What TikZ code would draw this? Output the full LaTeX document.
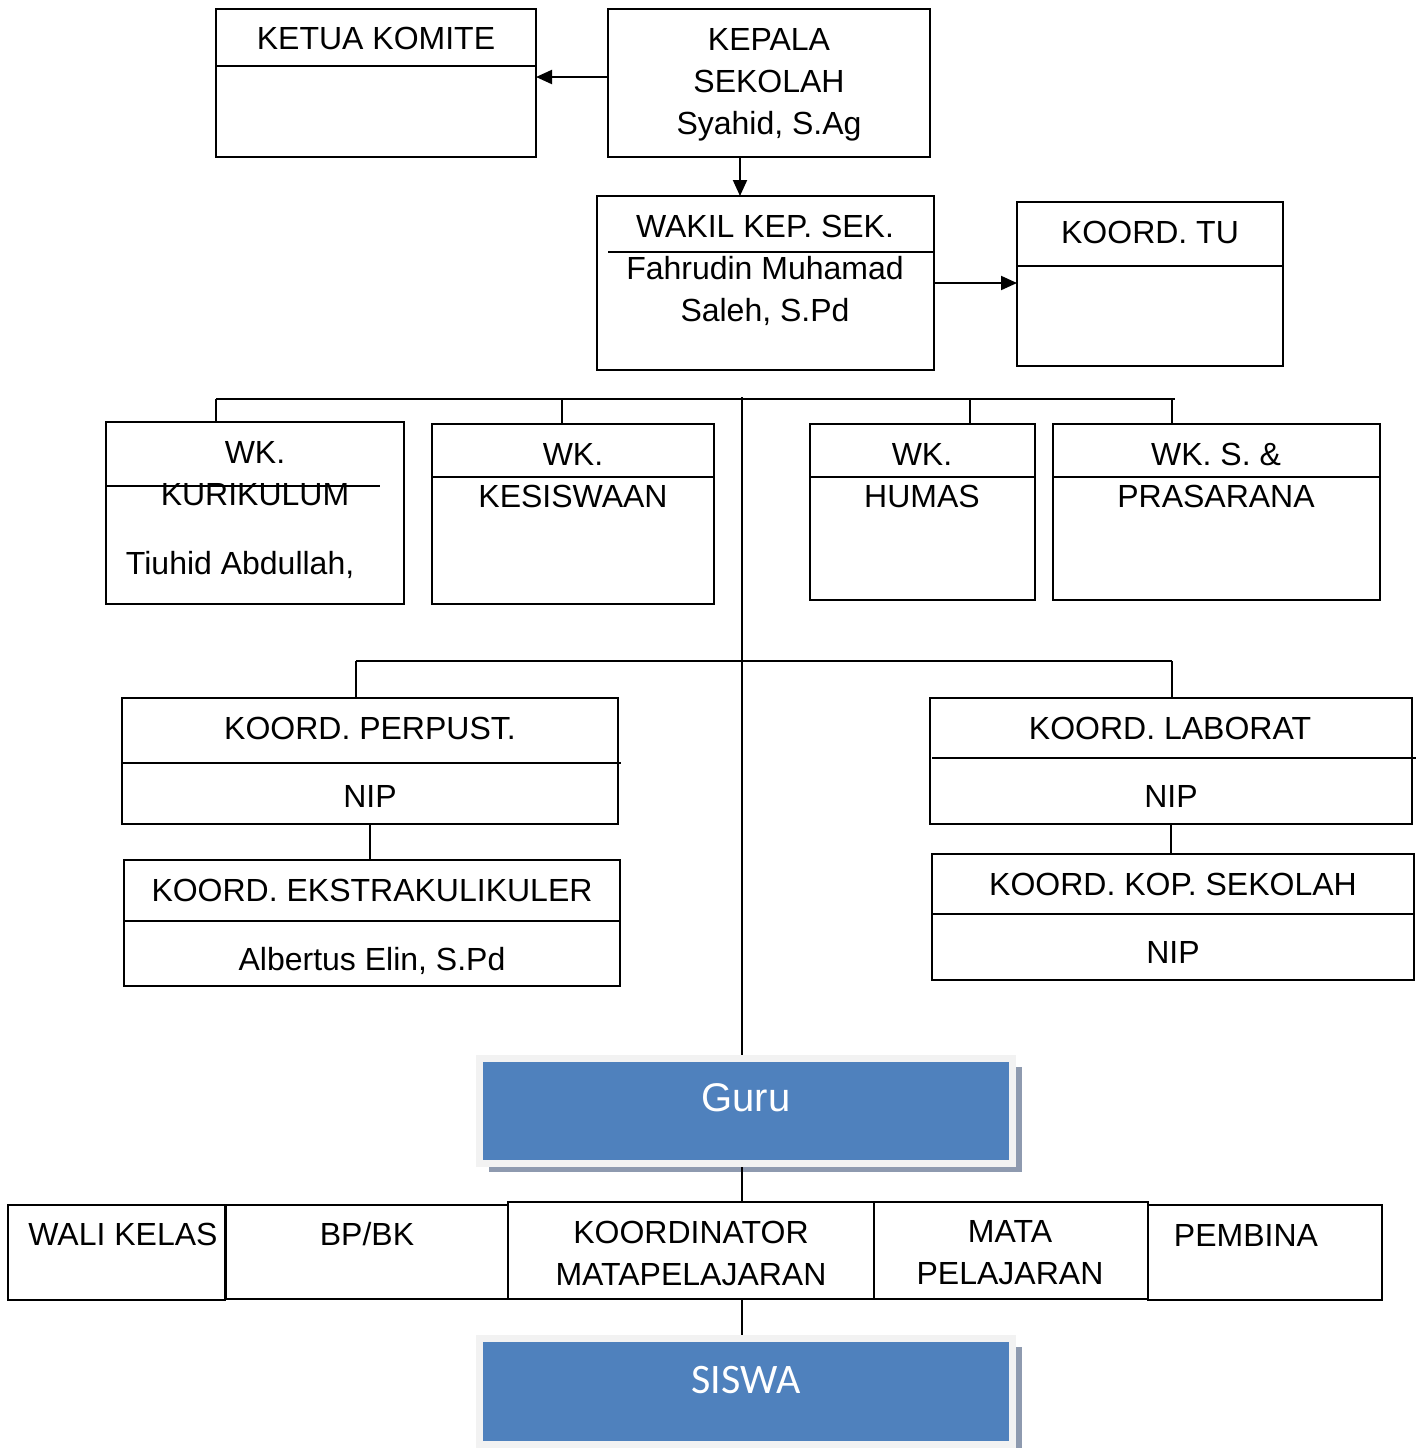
\documentclass[tikz,border=0pt]{standalone}
\usepackage{fontspec}
\setmainfont{Liberation Sans}
\newfontfamily\calibri{Carlito}
\usetikzlibrary{arrows.meta,shadows}

\definecolor{gurublue}{HTML}{4F81BD}
\definecolor{framegray}{HTML}{F2F2F2}
\definecolor{shadowgray}{HTML}{8E9AAF}

\begin{document}
\begin{tikzpicture}[x=0.5pt, y=-0.5pt, line width=1pt, >={Triangle[length=8pt,width=7pt]},
	every node/.style={font=\fontsize{16}{21}\selectfont, inner sep=0pt, outer sep=0pt},
	orgbox/.style 2 args={draw, minimum width=#1*0.5pt, minimum height=#2*0.5pt},
	bluebox/.style 2 args={fill=gurublue, draw=framegray, line width=3.5pt, outer sep=1.75pt,
		minimum width=#1*0.5pt, minimum height=#2*0.5pt,
		general shadow={fill=shadowgray, shadow xshift=4.5pt, shadow yshift=-4pt}},
	lbl/.style={align=center}]
	\useasboundingbox (0,0) rectangle (1421,1448);
	% top: komite, kepala sekolah, wakil, tu
	\node[orgbox={320}{148}] (komite) at (376,83) {};
	\node[orgbox={322}{148}] (kepsek) at (769,83) {};
	\node[orgbox={337}{174}] (wakil) at (765.5,283) {};
	\node[orgbox={266}{164}] (tu) at (1150,284) {};
	\draw (komite.west |- 0,66) -- (komite.east |- 0,66);
	\draw (608,252) -- (wakil.east |- 0,252);
	\draw (tu.west |- 0,266) -- (tu.east |- 0,266);
	\node (komite-t) at (376,38) {KETUA KOMITE};
	\node[lbl] (kepsek-t) at (769,85) {KEPALA\\SEKOLAH\\Syahid, S.Ag};
	\node (wakil-t) at (765,226) {WAKIL KEP. SEK.};
	\node[lbl] (wakil-n) at (765,291) {Fahrudin Muhamad\\Saleh, S.Pd};
	\node (tu-t) at (1150,232) {KOORD. TU};
	% wakil kepala bidang
	\node[orgbox={298}{182}] (kurikulum) at (255,513) {};
	\node[orgbox={282}{180}] (kesiswaan) at (573,514) {};
	\node[orgbox={225}{176}] (humas) at (922.5,512) {};
	\node[orgbox={327}{176}] (sarpras) at (1216.5,512) {};
	\draw (kurikulum.west |- 0,486) -- (380,486);
	\draw (kesiswaan.west |- 0,477) -- (kesiswaan.east |- 0,477);
	\draw (humas.west |- 0,477) -- (humas.east |- 0,477);
	\draw (sarpras.west |- 0,477) -- (sarpras.east |- 0,477);
	\node[lbl] (kurikulum-t) at (255,474) {WK.\\KURIKULUM};
	\node[anchor=west] (kurikulum-n) at (126,565) {Tiuhid Abdullah,};
	\node[lbl] (kesiswaan-t) at (573,476) {WK.\\KESISWAAN};
	\node[lbl] (humas-t) at (922,476) {WK.\\HUMAS};
	\node[lbl] (sarpras-t) at (1216,475) {WK. S. \&\\PRASARANA};
	% koordinator
	\node[orgbox={496}{126}] (perpust) at (370,761) {};
	\node[orgbox={496}{126}] (ekskul) at (372,923) {};
	\node[orgbox={482}{126}] (lab) at (1171,761) {};
	\node[orgbox={482}{126}] (kop) at (1173,917) {};
	\draw (perpust.west |- 0,763) -- (621,763);
	\draw (ekskul.west |- 0,921) -- (ekskul.east |- 0,921);
	\draw (932,758) -- (1416,758);
	\draw (kop.west |- 0,914) -- (kop.east |- 0,914);
	\node (perpust-t) at (370,728) {KOORD. PERPUST.};
	\node (perpust-n) at (370,796) {NIP};
	\node (ekskul-t) at (372,890) {KOORD. EKSTRAKULIKULER};
	\node (ekskul-n) at (372,961) {Albertus Elin, S.Pd};
	\node (lab-t) at (1170,728) {KOORD. LABORAT};
	\node (lab-n) at (1171,796) {NIP};
	\node (kop-t) at (1173,884) {KOORD. KOP. SEKOLAH};
	\node (kop-n) at (1173,952) {NIP};
	% guru, tugas guru, siswa
	\node[bluebox={533}{105}] (guru) at (746,1111) {};
	\node[font=\fontsize{20}{24}\selectfont, text=white] (guru-t) at (746,1098) {Guru};
	\node[orgbox={217}{95}] (wali) at (116.5,1252.5) {};
	\node[orgbox={282}{94}] (bpbk) at (367,1252) {};
	\node[orgbox={366}{97}] (koormapel) at (691,1250.5) {};
	\node[orgbox={274}{97}] (mapel) at (1011,1250.5) {};
	\node[orgbox={234}{95}] (pembina) at (1265,1252.5) {};
	\node (wali-t) at (123,1234) {WALI KELAS};
	\node (bpbk-t) at (367,1234) {BP/BK};
	\node[lbl] (koormapel-t) at (691,1253) {KOORDINATOR\\MATAPELAJARAN};
	\node[lbl] (mapel-t) at (1010,1253) {MATA\\PELAJARAN};
	\node (pembina-t) at (1246,1235) {PEMBINA};
	\node[bluebox={533}{106}] (siswa) at (746,1391.5) {};
	\node[font=\calibri\fontsize{21}{25}\selectfont, text=white] (siswa-t) at (746,1380) {SISWA};
	% garis komando
	\coordinate (spine) at (742,397);
	\coordinate (b1) at (216,399);
	\coordinate (b2) at (562,399);
	\coordinate (b3) at (970,399);
	\coordinate (b4) at (1172,399);
	\coordinate (c1) at (356,661);
	\coordinate (c2) at (1172,661);
	\draw[->] ([yshift=3pt]kepsek.west) -- ([yshift=3pt]komite.east);
	\draw[->] (kepsek.south -| 740,0) -- (wakil.north -| 740,0);
	\draw[->] (wakil.east) -- (wakil.east -| tu.west);
	\draw (b1) -- (1175,399);
	\draw (b1) -- (b1 |- kurikulum.north);
	\draw (b2) -- (b2 |- kesiswaan.north);
	\draw (b3) -- (b3 |- humas.north);
	\draw (b4) -- (b4 |- sarpras.north);
	\draw (spine) -- (spine |- guru.north);
	\draw (c1) -- (c2);
	\draw (c1) -- (c1 |- perpust.north);
	\draw (c2) -- (c2 |- lab.north);
	\draw (perpust.south) -- (perpust.south |- ekskul.north);
	\draw (lab.south) -- (lab.south |- kop.north);
	\draw (guru.south -| spine) -- (spine |- koormapel.north);
	\draw (koormapel.south -| spine) -- (spine |- siswa.north);
\end{tikzpicture}
\end{document}
